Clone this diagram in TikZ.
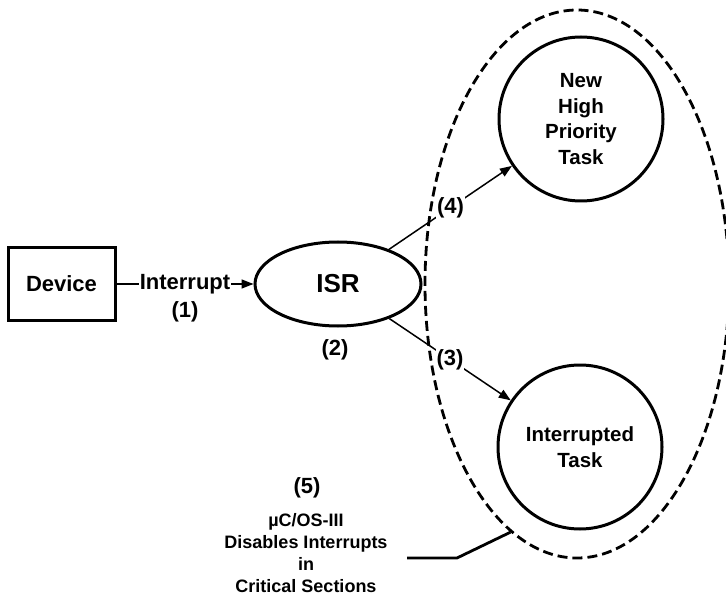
\documentclass[tikz,border=0pt]{standalone}
\usepackage{fontspec}
\setmainfont{Liberation Sans}
\usetikzlibrary{arrows.meta,positioning,shapes.geometric}

\begin{document}
\begin{tikzpicture}[
  x=1pt, y=-1pt,
  font=\bfseries\fontsize{22}{26}\selectfont,
  box/.style={draw, line width=3pt, minimum width=107pt, minimum height=72pt, inner sep=0pt},
  isrnode/.style={draw, ellipse, line width=3pt, minimum width=166pt, minimum height=84pt, inner sep=0pt},
  task/.style={draw, circle, line width=3pt, minimum size=164pt, inner sep=0pt, align=center, font=\bfseries\fontsize{20.5}{25.5}\selectfont},
  zonestyle/.style={draw, ellipse, dash pattern=on 10pt off 5pt, line width=2.8pt, minimum width=304pt, minimum height=548pt, inner sep=0pt},
  arr/.style={-{Triangle[length=12pt, width=9pt]}, line width=1.5pt},
  lbl/.style={fill=white, inner sep=1pt},
  note/.style={align=center, font=\bfseries\fontsize{18}{22}\selectfont}
]
\useasboundingbox (0,0) rectangle (726,596);
\node[box] (device) at (61.5,284) {Device};
\node[isrnode, right=137pt of device] (isr) {\fontsize{26}{30}\selectfont ISR};
\node[task] (high) at (581,119) {New\\High\\Priority\\Task};
\node[task] (intr) at (580,447) {Interrupted\\Task};
\node (two) at (335,350) {(2)};
\draw[arr] (device) -- node[lbl] (intlbl) {Interrupt} (isr);
\node[below=2pt of intlbl] (one) {(1)};
\draw[arr] (isr) -- node[lbl] (four) {(4)} (high);
\draw[arr] (isr) -- node[lbl] (three) {(3)} (intr);
\node[zonestyle] (zone) at (577,284) {};
% callout
\node (five) at (307,488) {(5)};
\node[note] (notetext) at (306,553) {µC/OS-III\\Disables Interrupts\\in\\Critical Sections};
\coordinate (tail) at (407,558);
\coordinate (elbow) at (457,558);
\draw[line width=2.8pt] (tail) -- (elbow) -- (zone.-105);
\end{tikzpicture}
\end{document}
